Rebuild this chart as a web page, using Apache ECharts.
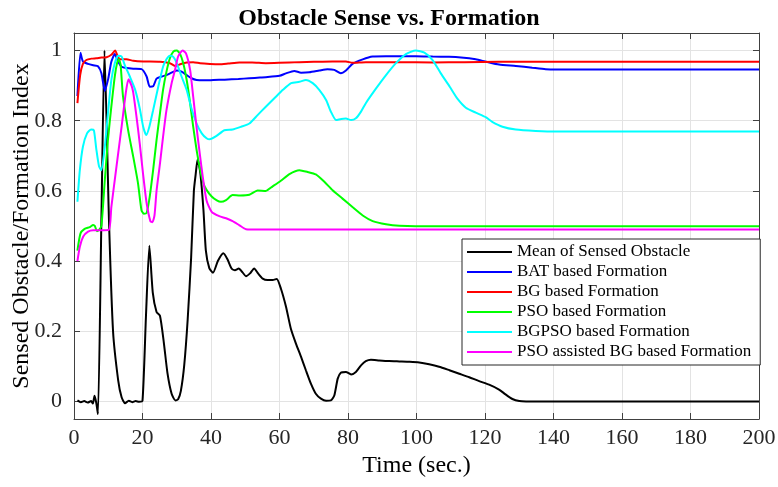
<!DOCTYPE html>
<html>
<head>
<meta charset="utf-8">
<script src="https://cdn.jsdelivr.net/npm/echarts@6/dist/echarts.min.js"></script>
<style>
html,body{margin:0;padding:0;background:#fff;}
#chart{width:778px;height:487px;}
</style>
</head>
<body>
<div id="chart"></div>
<script>
const seriesNames = ['Mean of Sensed Obstacle','BAT based Formation','BG based Formation','PSO based Formation','BGPSO based Formation','PSO assisted BG based Formation'];
const xTicks = [0,20,40,60,80,100,120,140,160,180,200];
const yTicks = [0,0.2,0.4,0.6,0.8,1];

const meanObstacle = [[1,0.003],[2,-0.002],[3,0.001],[4,-0.003],[5,0.001],[5.5,-0.006],[6,0.016],[6.5,-0.004],[7,-0.036],[8,0.52],[8.9,1.0],[10.2,0.52],[11.4,0.2],[12.9,0.06],[13.9,0.012],[14.9,-0.005],[16,0.002],[17,-0.002],[18,0.001],[19,-0.001],[20,0.002],[21,0.24],[22,0.444],[23,0.31],[24.1,0.255],[25.1,0.244],[26.2,0.17],[27.3,0.08],[28.5,0.022],[29.6,0.003],[30.4,0.006],[31.2,0.03],[32.2,0.105],[33.2,0.235],[34.2,0.41],[35,0.6],[35.5,0.645],[36.1,0.69],[36.9,0.65],[37.8,0.545],[38.5,0.43],[39.5,0.38],[40.6,0.367],[42,0.4],[43.6,0.422],[44.8,0.405],[46,0.379],[47,0.374],[48.1,0.379],[49.2,0.368],[50.2,0.357],[51.4,0.365],[52.6,0.379],[53.8,0.364],[55.1,0.35],[56.5,0.346],[58,0.346],[59.2,0.349],[60.4,0.322],[61.9,0.27],[63.3,0.208],[64.8,0.165],[66.3,0.127],[67.7,0.089],[69.2,0.05],[70.6,0.022],[72.1,0.008],[73.6,0.002],[75,0.003],[76,0.017],[77,0.065],[77.9,0.082],[79.4,0.084],[80.9,0.077],[82.3,0.084],[83.8,0.103],[85.2,0.115],[86.7,0.119],[89.1,0.117],[92,0.115],[95,0.114],[98,0.113],[100.8,0.111],[103.7,0.106],[106.6,0.099],[109.6,0.089],[112.5,0.079],[115.4,0.069],[118.3,0.058],[121.2,0.048],[124.1,0.034],[126,0.02],[128,0.007],[130,0.001],[132,0],[200,0]];

const batFormation = [[1,0.87],[1.9,0.994],[2.6,0.969],[4.1,0.962],[5.6,0.958],[7,0.955],[8,0.935],[9,0.885],[10,0.92],[10.9,0.968],[11.9,0.99],[12.9,0.968],[13.9,0.954],[15.3,0.95],[17.3,0.948],[19.7,0.947],[21.2,0.926],[22.1,0.897],[23.1,0.898],[24.1,0.92],[25.6,0.926],[27,0.93],[28.5,0.937],[30,0.943],[31.4,0.94],[32.9,0.93],[34.3,0.921],[35.8,0.916],[38,0.915],[40.7,0.916],[44,0.917],[48,0.919],[51.2,0.921],[54.3,0.923],[56,0.924],[60,0.928],[61.9,0.935],[64.3,0.942],[66.3,0.937],[68.7,0.938],[71.6,0.943],[74,0.947],[76,0.945],[77.9,0.935],[79.4,0.943],[81.3,0.962],[84.3,0.975],[87.2,0.983],[91.1,0.984],[99.8,0.984],[104.7,0.983],[109.5,0.982],[113,0.98],[117.3,0.975],[120,0.969],[124.1,0.96],[129,0.956],[133.8,0.951],[137.7,0.947],[140.6,0.946],[200,0.946]];

const bgFormation = [[1,0.85],[1.8,0.93],[2.6,0.962],[3.6,0.973],[5.1,0.977],[6.5,0.978],[8,0.98],[9.5,0.981],[10.9,0.988],[12,1.0],[12.7,0.985],[13.4,0.975],[15.3,0.975],[17.3,0.971],[20.2,0.969],[25.1,0.968],[28,0.964],[29.5,0.956],[31,0.961],[32.9,0.966],[34.8,0.967],[36.8,0.964],[39.7,0.962],[42.4,0.961],[45,0.963],[48.3,0.966],[52,0.966],[56,0.964],[60,0.965],[65.8,0.967],[70,0.968],[75.5,0.969],[79.4,0.969],[81.3,0.965],[85.2,0.967],[95,0.967],[104.7,0.966],[114,0.967],[124,0.968],[200,0.968]];

const psoFormation = [[1,0.43],[1.9,0.479],[3.1,0.492],[4.6,0.497],[5.6,0.503],[6.1,0.5],[6.7,0.485],[7.3,0.489],[8,0.5],[9,0.631],[9.9,0.745],[10.9,0.84],[11.9,0.926],[12.6,0.965],[13.1,0.975],[13.6,0.96],[14.3,0.87],[15.8,0.773],[17.3,0.697],[18.7,0.621],[19.7,0.545],[20.4,0.535],[21.2,0.537],[22.1,0.583],[23.1,0.659],[24.1,0.745],[25.1,0.821],[26,0.888],[27,0.94],[28,0.978],[29,0.997],[30,1.0],[30.9,0.992],[31.9,0.964],[32.9,0.916],[33.9,0.85],[34.8,0.783],[35.8,0.716],[36.8,0.662],[37.8,0.621],[38.7,0.603],[40.2,0.584],[41.7,0.573],[42.9,0.569],[44.4,0.574],[46.3,0.588],[48.5,0.587],[51.2,0.589],[53.6,0.601],[56,0.6],[58,0.613],[60.4,0.629],[62.9,0.648],[65.8,0.659],[68.2,0.654],[70.6,0.647],[73.1,0.626],[75.5,0.602],[78.4,0.578],[81.3,0.554],[84.3,0.53],[87.2,0.514],[91.1,0.505],[95,0.501],[104.7,0.499],[200,0.499]];

const bgpsoFormation = [[1,0.569],[1.7,0.659],[2.6,0.726],[3.8,0.764],[5,0.775],[5.8,0.773],[6.5,0.72],[7.3,0.67],[8,0.659],[9,0.726],[10,0.83],[10.9,0.916],[11.9,0.964],[12.9,0.985],[13.9,0.983],[14.8,0.959],[16.3,0.926],[17.8,0.89],[19.2,0.835],[20.2,0.783],[21.1,0.759],[22,0.783],[23.1,0.83],[24.6,0.897],[26,0.954],[27,0.975],[28,0.985],[29,0.982],[30,0.964],[31.4,0.926],[32.9,0.888],[34.3,0.835],[35.8,0.792],[37.3,0.764],[38.7,0.75],[39.6,0.747],[41.5,0.756],[43.9,0.773],[46.3,0.775],[48.8,0.783],[51.2,0.792],[53.6,0.816],[56,0.84],[58.5,0.864],[61,0.888],[63.4,0.907],[65.8,0.911],[67.7,0.916],[69.7,0.907],[71.6,0.888],[73.6,0.859],[75,0.826],[76.5,0.802],[78,0.805],[79.4,0.806],[80.9,0.802],[82.3,0.807],[83.8,0.826],[85.2,0.85],[88.2,0.892],[91.1,0.93],[94,0.964],[96.9,0.99],[99.8,1.0],[102.3,0.994],[104.7,0.973],[107.1,0.935],[109.7,0.897],[112,0.862],[114.4,0.837],[117.3,0.823],[120.2,0.81],[122.1,0.797],[125.1,0.783],[129,0.775],[134.8,0.771],[140.6,0.769],[200,0.769]];

const psoBgFormation = [[1,0.4],[1.7,0.441],[2.7,0.47],[4.1,0.484],[5.6,0.488],[7.6,0.488],[10.2,0.489],[10.9,0.554],[12.4,0.669],[13.9,0.783],[15.1,0.878],[15.9,0.918],[16.8,0.9],[17.3,0.88],[18.2,0.815],[19.2,0.735],[20.2,0.645],[21.2,0.565],[22.3,0.514],[22.9,0.511],[23.5,0.53],[24.1,0.6],[25.1,0.678],[26,0.754],[27,0.83],[28.5,0.907],[29.5,0.945],[30.4,0.983],[31.7,1.0],[32.7,0.992],[33.9,0.945],[34.8,0.869],[35.8,0.78],[36.8,0.7],[37.6,0.64],[38.7,0.573],[40.2,0.54],[42.4,0.528],[44.4,0.522],[46.3,0.514],[48.3,0.502],[50.2,0.491],[54.3,0.49],[200,0.49]];

const seriesData = [meanObstacle, batFormation, bgFormation, psoFormation, bgpsoFormation, psoBgFormation];
const seriesColors = ['#000000','#0000ff','#ff0000','#00ff00','#00ffff','#ff00ff'];

const FONT = '"Liberation Serif", "Times New Roman", serif';
const axisColor = '#404040';
const gridColor = '#e3e3e3';

const chart = echarts.init(document.getElementById('chart'), null, {renderer: 'canvas'});

const baseX = {
  type: 'value', min: 0, max: 200, interval: 20,
  axisLine: {show: true, onZero: false, lineStyle: {color: axisColor, width: 1}},
  axisTick: {show: true, inside: true, length: 6, lineStyle: {color: axisColor}},
  splitLine: {show: false}
};
const baseY = {
  type: 'value', min: -0.05, max: 1.05,
  axisLine: {show: true, onZero: false, lineStyle: {color: axisColor, width: 1}},
  axisTick: {show: true, inside: true, length: 6, customValues: yTicks, lineStyle: {color: axisColor}},
  splitLine: {show: false}
};

const option = {
  backgroundColor: '#ffffff',
  animation: false,
  title: {
    text: 'Obstacle Sense vs. Formation',
    left: 'center', top: 2,
    textStyle: {fontFamily: FONT, fontWeight: 'bold', fontSize: 24, color: '#000'}
  },
  grid: {left: 74, right: 19, top: 33, bottom: 68, containLabel: false, outerBoundsMode: 'none'},
  legend: {
    orient: 'vertical',
    left: 462, top: 239,
    icon: 'rect',
    itemWidth: 45, itemHeight: 2, itemGap: 0,
    padding: [3, 9, 3, 5],
    borderColor: '#262626', borderWidth: 1,
    backgroundColor: '#ffffff',
    textStyle: {fontFamily: FONT, fontSize: 17, color: '#000', lineHeight: 20},
    data: seriesNames
  },
  xAxis: [
    Object.assign({}, baseX, {
      position: 'bottom',
      name: 'Time (sec.)', nameLocation: 'middle', nameGap: 35, nameMoveOverlap: false,
      nameTextStyle: {fontFamily: FONT, fontSize: 24, color: '#000'},
      axisLabel: {show: true, margin: 8, fontFamily: FONT, fontSize: 22, color: '#262626'},
      splitLine: {show: true, lineStyle: {color: gridColor, width: 1}}
    }),
    Object.assign({}, baseX, {position: 'top', axisLabel: {show: false}})
  ],
  yAxis: [
    Object.assign({}, baseY, {
      position: 'left',
      name: 'Sensed Obstacle/Formation Index', nameLocation: 'middle', nameGap: 40, nameMoveOverlap: false,
      nameTextStyle: {fontFamily: FONT, fontSize: 24, color: '#000'},
      axisLabel: {show: true, margin: 12, customValues: yTicks, fontFamily: FONT, fontSize: 22, color: '#262626',
        formatter: function (v) { return String(Math.round(v * 10) / 10); }},
      splitLine: {show: true, lineStyle: {color: gridColor, width: 1}}
    }),
    Object.assign({}, baseY, {position: 'right', axisLabel: {show: false}})
  ],
  series: seriesNames.map(function (name, i) {
    return {
      name: name,
      type: 'line',
      xAxisIndex: 0, yAxisIndex: 0,
      data: seriesData[i],
      symbol: 'none', showSymbol: false,
      smooth: 0.2,
      lineStyle: {color: seriesColors[i], width: 2},
      itemStyle: {color: seriesColors[i]},
      z: 2 + i
    };
  })
};
chart.setOption(option);
</script>
</body>
</html>
